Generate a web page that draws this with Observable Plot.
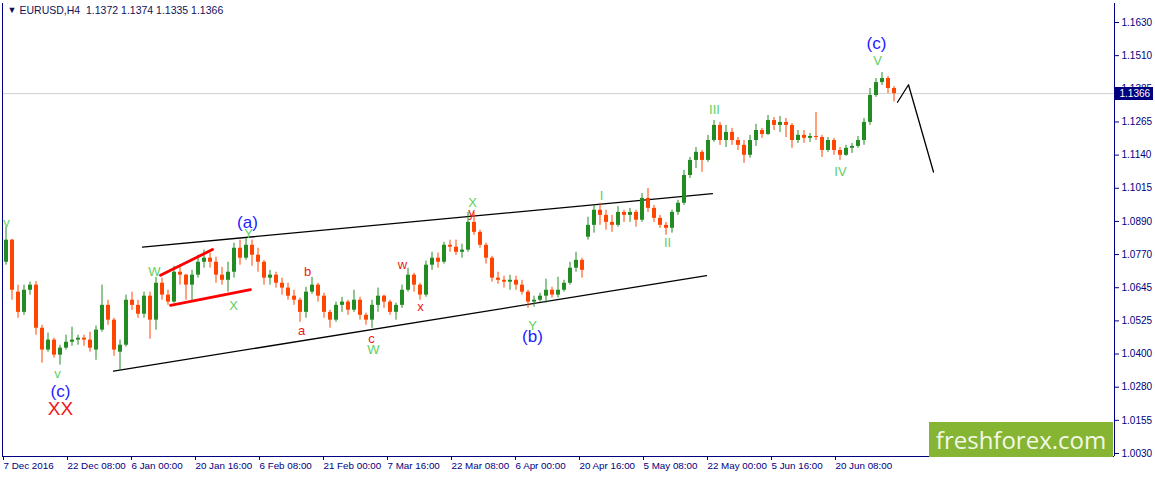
<!DOCTYPE html>
<html>
<head>
<meta charset="utf-8">
<script src="https://cdn.jsdelivr.net/npm/d3@7"></script>
<script src="https://cdn.jsdelivr.net/npm/@observablehq/plot@0.6"></script>
<style>
  html, body { margin: 0; padding: 0; background: #fff; }
  #wrap { position: relative; width: 1155px; height: 477px; overflow: hidden; }
  #logo { position: absolute; left: 929px; top: 422px; width: 184px; height: 35px;
          background: #85b533; color: #f3f8e6; font-family: "Open Sans", sans-serif;
          font-size: 24px; line-height: 35px; text-align: center; }
</style>
</head>
<body>
<div id="wrap"><div id="logo">freshforex.com</div></div>
<script>
// ---- Daily OHLC (EURUSD, each candle = one trading day = 6 H4 bars) ----
const opens = [1.0740,1.0822,1.0629,1.0554,1.0636,1.0655,1.0495,1.0414,1.0451,1.0395,
  1.0421,1.0443,1.0451,1.0458,1.0451,1.0414,1.0488,1.0580,1.0525,1.0406,
  1.0432,1.0599,1.0580,1.0547,1.0614,1.0525,1.0662,1.0618,1.0592,1.0703,
  1.0692,1.0655,1.0692,1.0740,1.0755,1.0740,1.0692,1.0673,1.0703,1.0792,
  1.0755,1.0803,1.0766,1.0740,1.0681,1.0692,1.0662,1.0644,1.0614,1.0599,
  1.0554,1.0629,1.0655,1.0614,1.0554,1.0525,1.0580,1.0592,1.0562,1.0599,
  1.0543,1.0525,1.0580,1.0614,1.0592,1.0554,1.0580,1.0636,1.0692,1.0655,
  1.0618,1.0729,1.0755,1.0740,1.0803,1.0796,1.0777,1.0785,1.0888,1.0851,
  1.0803,1.0755,1.0681,1.0673,1.0666,1.0673,1.0655,1.0629,1.0592,1.0599,
  1.0614,1.0636,1.0618,1.0636,1.0662,1.0718,1.0747,1.0833,1.0877,1.0933,
  1.0914,1.0888,1.0877,1.0925,1.0914,1.0925,1.0896,1.0977,1.0940,1.0903,
  1.0877,1.0866,1.0925,1.0959,1.1062,1.1118,1.1148,1.1118,1.1192,1.1248,
  1.1192,1.1222,1.1192,1.1174,1.1137,1.1192,1.1229,1.1214,1.1266,1.1248,
  1.1259,1.1248,1.1192,1.1211,1.1200,1.1207,1.1203,1.1155,1.1192,1.1155,
  1.1137,1.1163,1.1170,1.1192,1.1259,1.1359,1.1407,1.1422,1.1385];
const highs = [1.0870,1.0825,1.0655,1.0655,1.0666,1.0668,1.0506,1.0477,1.0458,1.0432,
  1.0469,1.0499,1.0469,1.0469,1.0480,1.0503,1.0655,1.0599,1.0532,1.0451,
  1.0618,1.0629,1.0599,1.0629,1.0629,1.0684,1.0681,1.0636,1.0725,1.0729,
  1.0695,1.0710,1.0766,1.0785,1.0774,1.0759,1.0721,1.0740,1.0811,1.0822,
  1.0829,1.0822,1.0792,1.0747,1.0710,1.0703,1.0681,1.0662,1.0636,1.0607,
  1.0647,1.0684,1.0662,1.0625,1.0562,1.0592,1.0610,1.0599,1.0636,1.0610,
  1.0551,1.0599,1.0644,1.0618,1.0599,1.0588,1.0655,1.0718,1.0699,1.0662,
  1.0744,1.0777,1.0774,1.0814,1.0822,1.0822,1.0807,1.0925,1.0925,1.0859,
  1.0811,1.0762,1.0703,1.0688,1.0692,1.0688,1.0673,1.0636,1.0614,1.0625,
  1.0677,1.0647,1.0684,1.0673,1.0740,1.0777,1.0755,1.0907,1.0951,1.0959,
  1.0933,1.0914,1.0947,1.0933,1.0940,1.0933,1.0995,1.1014,1.0951,1.0914,
  1.0888,1.0933,1.0970,1.1081,1.1129,1.1166,1.1155,1.1211,1.1266,1.1259,
  1.1248,1.1237,1.1203,1.1192,1.1211,1.1252,1.1237,1.1285,1.1277,1.1281,
  1.1274,1.1255,1.1229,1.1229,1.1218,1.1296,1.1211,1.1203,1.1200,1.1166,
  1.1174,1.1181,1.1207,1.1274,1.1385,1.1422,1.1444,1.1430,1.1392];
const lows = [1.0729,1.0599,1.0532,1.0543,1.0618,1.0469,1.0365,1.0406,1.0384,1.0358,
  1.0414,1.0428,1.0432,1.0428,1.0406,1.0376,1.0480,1.0506,1.0391,1.0339,
  1.0425,1.0562,1.0532,1.0532,1.0454,1.0488,1.0599,1.0580,1.0588,1.0655,
  1.0599,1.0592,1.0681,1.0718,1.0718,1.0662,1.0655,1.0629,1.0681,1.0729,
  1.0747,1.0725,1.0703,1.0655,1.0655,1.0644,1.0618,1.0599,1.0580,1.0517,
  1.0532,1.0621,1.0592,1.0532,1.0495,1.0517,1.0554,1.0543,1.0554,1.0525,
  1.0506,1.0495,1.0554,1.0569,1.0543,1.0525,1.0569,1.0629,1.0629,1.0599,
  1.0610,1.0710,1.0718,1.0733,1.0777,1.0766,1.0755,1.0777,1.0840,1.0792,
  1.0733,1.0666,1.0658,1.0644,1.0636,1.0636,1.0618,1.0569,1.0573,1.0592,
  1.0588,1.0607,1.0607,1.0629,1.0655,1.0703,1.0681,1.0822,1.0848,1.0877,
  1.0859,1.0851,1.0870,1.0888,1.0888,1.0870,1.0888,1.0925,1.0888,1.0866,
  1.0840,1.0848,1.0914,1.0951,1.1051,1.1088,1.1074,1.1111,1.1185,1.1174,
  1.1166,1.1174,1.1155,1.1107,1.1126,1.1170,1.1200,1.1211,1.1229,1.1222,
  1.1203,1.1163,1.1181,1.1181,1.1185,1.1192,1.1129,1.1148,1.1137,1.1118,
  1.1133,1.1144,1.1163,1.1174,1.1248,1.1352,1.1396,1.1366,1.1335];
const closes = [1.0822,1.0636,1.0554,1.0636,1.0655,1.0495,1.0414,1.0451,1.0395,1.0421,
  1.0443,1.0451,1.0458,1.0451,1.0421,1.0488,1.0580,1.0525,1.0414,1.0432,
  1.0599,1.0580,1.0547,1.0614,1.0525,1.0662,1.0618,1.0592,1.0703,1.0692,
  1.0655,1.0692,1.0740,1.0755,1.0740,1.0692,1.0673,1.0703,1.0792,1.0755,
  1.0803,1.0766,1.0740,1.0681,1.0692,1.0662,1.0644,1.0614,1.0599,1.0554,
  1.0629,1.0655,1.0614,1.0554,1.0525,1.0580,1.0592,1.0562,1.0599,1.0543,
  1.0525,1.0580,1.0614,1.0592,1.0554,1.0580,1.0636,1.0692,1.0655,1.0618,
  1.0729,1.0755,1.0740,1.0803,1.0796,1.0777,1.0785,1.0888,1.0851,1.0803,
  1.0755,1.0681,1.0673,1.0666,1.0673,1.0655,1.0629,1.0592,1.0599,1.0614,
  1.0636,1.0618,1.0636,1.0662,1.0718,1.0747,1.0710,1.0877,1.0933,1.0914,
  1.0888,1.0877,1.0925,1.0914,1.0925,1.0896,1.0977,1.0940,1.0903,1.0877,
  1.0866,1.0925,1.0959,1.1062,1.1118,1.1148,1.1118,1.1192,1.1248,1.1192,
  1.1222,1.1192,1.1174,1.1137,1.1192,1.1229,1.1214,1.1266,1.1248,1.1259,
  1.1248,1.1192,1.1211,1.1200,1.1207,1.1203,1.1155,1.1192,1.1155,1.1137,
  1.1163,1.1170,1.1192,1.1259,1.1359,1.1407,1.1422,1.1385,1.1366];
const barsPerDay = 6;

// ---- Price axis ----
const yTickLabels = ["1.0030","1.0155","1.0280","1.0400","1.0525","1.0645","1.0770",
  "1.0890","1.1015","1.1140","1.1265","1.1385","1.1510","1.1630"];
const yLow = 1.0030, yHigh = 1.1630;
const currentPrice = 1.1366;

// ---- Time axis (H4 bar index) ----
const xTickLabels = ["7 Dec 2016","22 Dec 08:00","6 Jan 00:00","20 Jan 16:00","6 Feb 08:00",
  "21 Feb 00:00","7 Mar 16:00","22 Mar 08:00","6 Apr 00:00","20 Apr 16:00","5 May 08:00",
  "22 May 00:00","5 Jun 16:00","20 Jun 08:00"];
const barsPerLabel = 64;

// ---- Drawn lines (H4 bar, price) ----
const channelUpperBars = [139, 709], channelUpperPrices = [1.0796, 1.0995];
const channelLowerBars = [110, 703], channelLowerPrices = [1.0336, 1.0690];
const redUpperBars = [157, 209], redUpperPrices = [1.0692, 1.0787];
const redLowerBars = [167, 247], redLowerPrices = [1.0580, 1.0638];
const projBars = [894, 905, 930], projPrices = [1.1334, 1.1399, 1.1075];

// ---- Wave labels ----
const labelBars   = [3, 54, 57, 57, 151, 244, 245, 230, 304, 298, 368, 370, 399, 417, 469, 468, 529, 529, 598, 664, 711, 837, 874, 873];
const labelPrices = [1.0888, 1.0324, 1.0261, 1.0194, 1.0706, 1.0888, 1.0844, 1.0577, 1.0703, 1.0484, 1.0454, 1.0414, 1.0729, 1.0573, 1.0962, 1.0922, 1.0503, 1.0465, 1.0985, 1.0811, 1.1304, 1.1074, 1.1486, 1.1552];
const labelTexts  = ["v","v","(c)","XX","W","(a)","Y","X","b","a","c","W","w","x","X","y","Y","(b)","I","II","III","IV","V","(c)"];
const labelKinds  = ["minor","minor","major","degree","minor","major","minor","minor","sub","sub","sub","minor","sub","sub","minor","sub","minor","major","minor","minor","minor","minor","minor","major"];

const header = "EURUSD,H4\u00a0\u00a01.1372 1.1374 1.1335 1.1366";

// ---- build tables ----
const candles = opens.map((o, i) => ({
  bar: i * barsPerDay + (barsPerDay - 1) / 2, o, h: highs[i], l: lows[i], c: closes[i]
}));
const candleColor = d => d.c > d.o ? "#228b22" : d.c < d.o ? "#ff4500" : "#000000";
const yTicks = yTickLabels.map((_, i) => yLow + i * (yHigh - yLow) / (yTickLabels.length - 1));
const yLabelOf = new Map(yTicks.map((v, i) => [v, yTickLabels[i]]));
const xTicks = xTickLabels.map((_, i) => i * barsPerLabel);
const xLabelOf = new Map(xTicks.map((v, i) => [v, xTickLabels[i]]));
const pts = (bars, prices) => bars.map((b, i) => ({bar: b, price: prices[i]}));
const labels = labelTexts.map((t, i) => ({bar: labelBars[i], price: labelPrices[i], text: t, kind: labelKinds[i]}));
const kindColor = {minor: "#5fcf5f", sub: "#f01818", major: "#1c1cff", degree: "#f01818"};
const kindSize = {minor: 13, sub: 13, major: 17, degree: 19};

const pxPerUnit = 431 / (yHigh - yLow);
const yDomain = [yLow - 3 / pxPerUnit, yHigh + 19 / pxPerUnit];
const xDomain = [-1, 1111];
const tagBars = 39;
const navy = "#000080";
const font = "Liberation Sans, Arial, sans-serif";

const chart = Plot.plot({
  width: 1155, height: 477,
  marginLeft: 2, marginRight: 41, marginTop: 3, marginBottom: 21,
  x: {domain: xDomain, label: null},
  y: {domain: yDomain, label: null},
  style: {fontFamily: font, background: "#fff", overflow: "visible"},
  marks: [
    Plot.ruleY([currentPrice], {stroke: "#cfcfcf", strokeWidth: 1}),
    Plot.line(pts(channelUpperBars, channelUpperPrices), {x: "bar", y: "price", stroke: "#000", strokeWidth: 1.3}),
    Plot.line(pts(channelLowerBars, channelLowerPrices), {x: "bar", y: "price", stroke: "#000", strokeWidth: 1.3}),
    Plot.ruleX(candles, {x: "bar", y1: "l", y2: "h", stroke: candleColor, strokeWidth: 1}),
    Plot.ruleX(candles, {x: "bar", y1: "o", y2: "c", stroke: candleColor, strokeWidth: 4}),
    Plot.line(pts(redUpperBars, redUpperPrices), {x: "bar", y: "price", stroke: "#ff0000", strokeWidth: 2.8}),
    Plot.line(pts(redLowerBars, redLowerPrices), {x: "bar", y: "price", stroke: "#ff0000", strokeWidth: 2.8}),
    Plot.line(pts(projBars, projPrices), {x: "bar", y: "price", stroke: "#000", strokeWidth: 1.3}),
    Plot.text(labels, {x: "bar", y: "price", text: "text",
      fill: d => kindColor[d.kind], fontSize: d => kindSize[d.kind],
      fontWeight: d => d.kind === "degree" ? "bold" : "normal"}),
    Plot.ruleX([xDomain[0], xDomain[1]], {stroke: navy, strokeWidth: 1}),
    Plot.ruleY([yDomain[0]], {stroke: navy, strokeWidth: 1}),
    Plot.axisY(yTicks, {anchor: "right", label: null, tickFormat: d => yLabelOf.get(d), tickSize: 4, tickPadding: 3,
      color: navy, fontSize: 10, fontFamily: font}),
    Plot.axisX(xTicks, {anchor: "bottom", label: null, tickFormat: d => xLabelOf.get(d), tickSize: 4, tickPadding: 2,
      textAnchor: "start", dx: 0, color: navy, fontSize: 9.8, fontFamily: font}),
    // current price tag on the price axis
    Plot.ruleY([currentPrice], {x1: xDomain[1], x2: xDomain[1] + tagBars, stroke: navy, strokeWidth: 13}),
    Plot.text([currentPrice], {x: xDomain[1], y: d => d, text: d => d.toFixed(4), dx: 5, textAnchor: "start",
      fill: "#ffffff", fontSize: 10, fontFamily: font}),
    Plot.text(["\u25bc"], {frameAnchor: "top-left", dx: 5, dy: 7, lineAnchor: "middle", textAnchor: "start", fontSize: 9, fill: "#10105a"}),
    Plot.text([header], {frameAnchor: "top-left", dx: 17, dy: 7, lineAnchor: "middle", textAnchor: "start", fontSize: 10.5, fill: "#10105a"})
  ]
});

const wrap = document.getElementById("wrap");
wrap.insertBefore(chart, wrap.firstChild);
</script>
</body>
</html>
